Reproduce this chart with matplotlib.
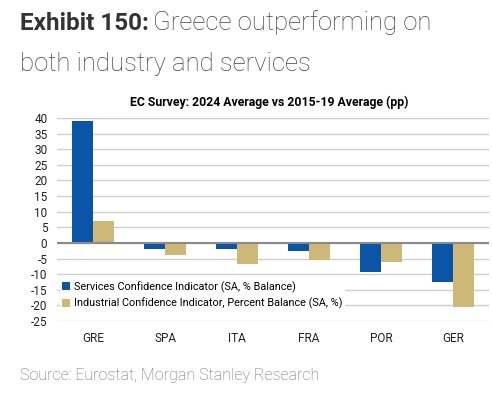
import numpy as np
import matplotlib.pyplot as plt

# data
countries = ["GRE", "SPA", "ITA", "FRA", "POR", "GER"]
services = [39.0, -2.0, -2.0, -2.6, -9.2, -12.5]
industry = [7.1, -3.7, -6.6, -5.3, -6.1, -20.5]
yticks = list(range(-25, 45, 5))

blue = "#0a55a8"
gold = "#cdb877"
chart_font = "Roboto"

fig = plt.figure(figsize=(4.92, 3.94), dpi=100)
ax = fig.add_axes([0.116, 0.185, 0.878, 0.5155])

x = np.arange(len(countries))
w = 0.29
ax.bar(x - w / 2, services, w, color=blue, zorder=3,
       label="Services Confidence Indicator (SA, % Balance)")
ax.bar(x + w / 2, industry, w, color=gold, zorder=3,
       label="Industrial Confidence Indicator, Percent Balance (SA, %)")

ax.set_xlim(-0.5, len(countries) - 0.5)
ax.set_ylim(-25, 40)
ax.set_yticks(yticks)
ax.set_yticklabels([str(v) for v in yticks])
ax.set_xticks(x)
ax.set_xticklabels(countries)
ax.grid(axis="y", color="#cfcfcf", lw=1.0, zorder=0)
ax.axhline(0, color="#8a8a8a", lw=1.5, zorder=4)
for s in ax.spines.values():
    s.set_visible(False)
ax.tick_params(length=0, labelsize=8.5, colors="#222222")
ax.tick_params(axis="y", pad=7)
ax.tick_params(axis="x", pad=8)
for lab in ax.get_xticklabels() + ax.get_yticklabels():
    lab.set_family(chart_font)

leg = ax.legend(loc="lower left", bbox_to_anchor=(-0.005, 0.025), frameon=True,
                framealpha=1, edgecolor="none", fancybox=False,
                handlelength=0.75, handleheight=0.75, handletextpad=0.4,
                borderpad=0.15, labelspacing=0.45,
                prop={"family": chart_font, "size": 7.8})
leg.set_zorder(5)

ax.set_title("EC Survey: 2024 Average vs 2015-19 Average (pp)",
             fontfamily=chart_font, fontweight="bold",
             fontsize=8.8, pad=9, x=0.49)

# headline
t1 = fig.text(20 / 492, 1 - 30 / 394, "Exhibit 150:", fontfamily="Roboto",
              fontweight="bold", fontsize=17.5, color="#333333")
fig.canvas.draw()
bb = t1.get_window_extent()
fig.text((bb.x1 + 4) / 492, 1 - 30 / 394, "Greece outperforming on",
         fontfamily="Roboto", fontweight="light", fontsize=18.5, color="#444444")
fig.text(20 / 492, 1 - 71 / 394, "both industry and services",
         fontfamily="Roboto", fontweight="light", fontsize=18.5, color="#444444")
fig.text(20 / 492, 1 - 380 / 394, "Source: Eurostat, Morgan Stanley Research",
         fontfamily="Roboto", fontweight="light", fontsize=11.5, color="#6a6a6a")

fig.savefig("out.png", dpi=100)
